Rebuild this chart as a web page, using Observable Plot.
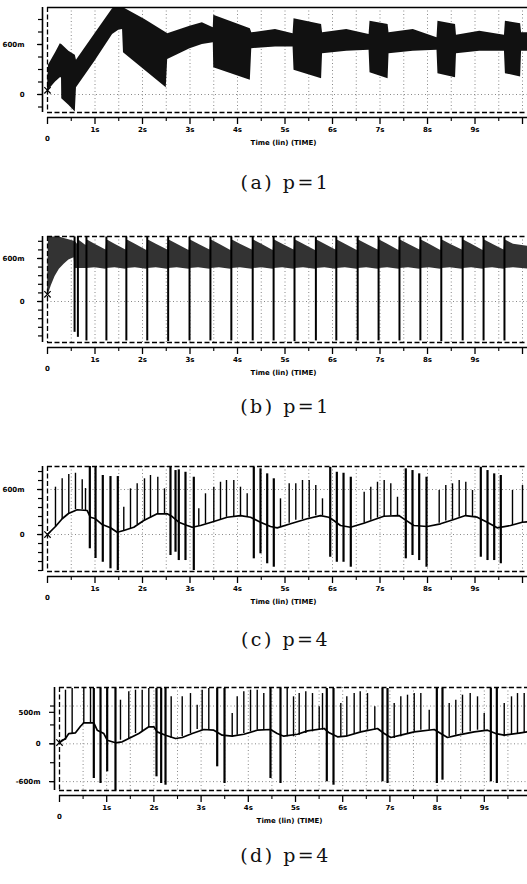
<!DOCTYPE html>
<html><head><meta charset="utf-8">
<script src="https://cdn.jsdelivr.net/npm/d3@7"></script>
<script src="https://cdn.jsdelivr.net/npm/@observablehq/plot@0.6"></script>
<style>
html,body{margin:0;padding:0;background:#fff;}
#root{position:relative;width:527px;height:884px;overflow:hidden;background:#fff;}
.cap{position:absolute;left:22px;width:527px;text-align:center;font-family:"DejaVu Serif",serif;font-size:19px;letter-spacing:2.5px;color:#111;line-height:22px;}
</style></head><body>
<div id="root"></div>
<script>
// ---------- shared axis data ----------
const tickVals = [0,1,2,3,4,5,6,7,8,9,10];
const tickText = ["", "1s","2s","3s","4s","5s","6s","7s","8s","9s",""];
const halfTicks = [0.5,1.5,2.5,3.5,4.5,5.5,6.5,7.5,8.5,9.5];
const gridXVals = [0.5,1,1.5,2,2.5,3,3.5,4,4.5,5,5.5,6,6.5,7,7.5,8,8.5,9,9.5,10];
const axisTitle = "Time (lin) (TIME)";
const originLabel = "0";
const captions = ["(a) p=1","(b) p=1","(c) p=4","(d) p=4"];

// ---------- panel (a): envelope [t, low, high] ----------
const aBand = [
  [0,0.03,0.08],[0.02,0.05,0.35],[0.17,0.15,0.5],[0.27,0.2,0.61],[0.295,0.2,0.6],
  [0.3,-0.05,0.6],[0.45,-0.13,0.52],[0.585,-0.21,0.47],
  [0.61,0.08,0.41],[1.0,0.4,0.73],[1.37,0.72,1.03],[1.5,0.77,1.05],[1.58,0.78,1.04],
  [1.6,0.5,1.04],[2.05,0.29,0.9],[2.5,0.08,0.74],
  [2.53,0.42,0.73],[3.0,0.55,0.82],[3.26,0.6,0.86],[3.49,0.62,0.8],
  [3.5,0.32,0.95],[4.27,0.17,0.79],
  [4.3,0.55,0.74],[4.8,0.57,0.78],[5.17,0.57,0.73],
  [5.19,0.29,0.91],[5.77,0.19,0.84],
  [5.79,0.49,0.74],[6.3,0.52,0.78],[6.77,0.53,0.72],
  [6.79,0.26,0.88],[7.17,0.19,0.84],
  [7.19,0.49,0.74],[7.7,0.52,0.78],[8.2,0.53,0.68],
  [8.22,0.25,0.88],[8.59,0.2,0.84],
  [8.61,0.49,0.71],[9.1,0.52,0.76],[9.62,0.52,0.71],
  [9.64,0.25,0.88],[9.96,0.21,0.85],
  [9.98,0.52,0.74],[10.2,0.52,0.74]
];
const aStart = [[0,0.05]];

// ---------- panel (b): band [t, low, high] and dropouts [t, low, high] ----------
const bBand = [
  [0,0.08,0.12],[0.02,0.1,0.9],[0.08,0.22,0.9],[0.16,0.35,0.9],[0.25,0.45,0.9],[0.35,0.52,0.88],[0.45,0.58,0.86],[0.56,0.61,0.84],
  [0.58,0.46,0.84],[0.63,0.46,0.8],
  [0.65,0.46,0.86],[0.81,0.46,0.78],
  [0.83,0.46,0.86],[1.00,0.47,0.8],[1.23,0.45,0.72],
  [1.25,0.46,0.86],[1.42,0.47,0.8],[1.65,0.45,0.72],
  [1.67,0.46,0.86],[1.85,0.47,0.8],[2.09,0.45,0.71],
  [2.11,0.46,0.86],[2.29,0.47,0.8],[2.53,0.45,0.72],
  [2.55,0.46,0.86],[2.73,0.47,0.8],[2.98,0.45,0.71],
  [3.00,0.46,0.86],[3.18,0.47,0.8],[3.42,0.45,0.72],
  [3.44,0.46,0.86],[3.62,0.47,0.8],[3.86,0.45,0.71],
  [3.88,0.46,0.86],[4.06,0.47,0.8],[4.31,0.45,0.72],
  [4.33,0.46,0.86],[4.51,0.47,0.8],[4.75,0.45,0.71],
  [4.77,0.46,0.86],[4.95,0.47,0.8],[5.19,0.45,0.72],
  [5.21,0.46,0.86],[5.39,0.47,0.8],[5.64,0.45,0.71],
  [5.66,0.46,0.86],[5.84,0.47,0.8],[6.07,0.45,0.72],
  [6.09,0.46,0.86],[6.27,0.47,0.8],[6.52,0.45,0.71],
  [6.54,0.46,0.86],[6.72,0.47,0.8],[6.96,0.45,0.72],
  [6.98,0.46,0.86],[7.16,0.47,0.8],[7.40,0.45,0.71],
  [7.42,0.46,0.86],[7.60,0.47,0.8],[7.84,0.45,0.72],
  [7.86,0.46,0.86],[8.04,0.47,0.8],[8.28,0.45,0.71],
  [8.30,0.46,0.86],[8.48,0.47,0.8],[8.73,0.45,0.72],
  [8.75,0.46,0.86],[8.93,0.47,0.8],[9.17,0.45,0.71],
  [9.19,0.46,0.86],[9.37,0.47,0.8],[9.61,0.45,0.72],
  [9.63,0.46,0.86],[9.81,0.47,0.8],[10.2,0.45,0.76]
];
const bDrops = [
  [0.57,-0.43,0.9],[0.64,-0.5,0.9],[0.82,-0.55,0.9],[1.24,-0.55,0.9],[1.66,-0.55,0.9],[2.10,-0.55,0.9],
  [2.54,-0.56,0.9],[2.99,-0.55,0.9],[3.43,-0.55,0.9],[3.87,-0.55,0.9],[4.32,-0.55,0.9],[4.76,-0.55,0.9],
  [5.20,-0.56,0.9],[5.65,-0.55,0.9],[6.08,-0.55,0.9],[6.53,-0.55,0.9],[6.97,-0.55,0.9],[7.41,-0.55,0.9],
  [7.85,-0.55,0.9],[8.29,-0.56,0.9],[8.74,-0.55,0.9],[9.18,-0.55,0.9],[9.62,-0.55,0.9]
];
const bStart = [[0,0.1]];

// ---------- panel (c): slow baseline [t, v] and spikes [t, low, high] ----------
const cLine = [
  [0,0],[0.168,0.107],[0.309,0.21],[0.442,0.28],[0.625,0.33],[0.836,0.32],[0.905,0.23],[1.01,0.21],
  [1.152,0.133],[1.326,0.09],[1.467,0.03],[1.606,0.053],[1.817,0.097],[2.027,0.187],[2.309,0.276],
  [2.52,0.276],[2.625,0.24],[2.764,0.164],[2.941,0.12],[3.046,0.097],[3.221,0.12],[3.501,0.173],
  [3.783,0.23],[4.063,0.253],[4.274,0.23],[4.484,0.164],[4.695,0.107],[4.836,0.089],[5.116,0.143],
  [5.467,0.21],[5.747,0.253],[5.922,0.23],[6.027,0.187],[6.168,0.12],[6.379,0.097],[6.659,0.151],
  [7.08,0.244],[7.396,0.253],[7.501,0.209],[7.712,0.12],[7.994,0.107],[8.274,0.143],[8.554,0.2],
  [8.8,0.253],[9.046,0.231],[9.257,0.164],[9.467,0.089],[9.747,0.12],[9.994,0.164],[10.105,0.17]
];
const cSpikes = [
  [0.168,0.1,0.631],[0.309,0.2,0.743],[0.448,0.27,0.8],[0.589,0.33,0.817],[0.731,0.33,0.729],[0.8,0.32,0.613],
  [1.606,0.05,0.364],[1.747,0.08,0.609],[1.888,0.13,0.676],[2.042,0.18,0.743],[2.168,0.22,0.787],[2.322,0.27,0.764],[2.463,0.28,0.609],
  [3.185,0.11,0.343],[3.326,0.14,0.543],[3.501,0.17,0.631],[3.642,0.2,0.697],[3.768,0.23,0.72],[3.922,0.24,0.72],[4.063,0.25,0.631],[4.204,0.24,0.543],
  [4.905,0.1,0.476],[5.088,0.15,0.676],[5.227,0.19,0.676],[5.368,0.2,0.72],[5.509,0.22,0.72],[5.648,0.25,0.653],[5.789,0.25,0.476],
  [6.667,0.15,0.564],[6.806,0.19,0.631],[6.947,0.22,0.697],[7.088,0.24,0.72],[7.227,0.25,0.676],[7.368,0.25,0.497],
  [8.246,0.15,0.587],[8.385,0.18,0.653],[8.526,0.2,0.676],[8.667,0.23,0.72],[8.806,0.25,0.697],[8.947,0.24,0.587],
  [9.789,0.12,0.587],[10.0,0.16,0.653]
];
const cBigSpikes = [
  [0.891,-0.19,0.907],[1.011,-0.32,0.897],[1.164,-0.37,0.787],[1.326,-0.457,0.773],[1.48,-0.48,0.773],
  [2.589,-0.28,0.897],[2.695,-0.236,0.853],[2.764,-0.347,0.862],[2.905,-0.347,0.83],[3.08,-0.48,0.764],
  [4.343,-0.324,0.897],[4.484,-0.257,0.876],[4.625,-0.39,0.809],[4.764,-0.436,0.743],
  [5.952,-0.303,0.897],[6.091,-0.37,0.83],[6.232,-0.37,0.817],[6.385,-0.436,0.764],
  [7.543,-0.324,0.876],[7.684,-0.28,0.853],[7.825,-0.347,0.809],[7.979,-0.436,0.764],
  [9.122,-0.303,0.897],[9.263,-0.347,0.853],[9.404,-0.347,0.809],[9.543,-0.39,0.787]
];

// ---------- panel (d): slow baseline [t, v] and spikes [t, low, high] ----------
const dLine = [
  [0,0.02],[0.127,0.084],[0.197,0.163],[0.339,0.175],[0.445,0.279],[0.515,0.333],[0.727,0.333],[0.799,0.216],
  [0.939,0.163],[1.011,0.057],[1.186,0.016],[1.328,0.032],[1.468,0.084],[1.68,0.163],[1.892,0.27],[1.998,0.27],
  [2.07,0.19],[2.246,0.137],[2.458,0.084],[2.6,0.1],[2.811,0.163],[3.057,0.227],[3.269,0.216],[3.447,0.137],
  [3.659,0.121],[3.905,0.152],[4.189,0.216],[4.47,0.227],[4.612,0.163],[4.752,0.121],[5.042,0.152],[5.254,0.206],
  [5.608,0.243],[5.714,0.175],[5.89,0.111],[6.066,0.121],[6.383,0.19],[6.737,0.243],[6.879,0.163],[7.019,0.1],
  [7.231,0.137],[7.515,0.19],[7.939,0.227],[8.078,0.163],[8.22,0.1],[8.432,0.137],[8.786,0.19],[9.068,0.216],
  [9.244,0.163],[9.422,0.137],[9.773,0.175],[9.915,0.19]
];
const dSpikes = [
  [0.127,0.057,0.851],[0.268,0.163,0.878],[0.515,0.322,0.878],[0.657,0.322,0.878],
  [1.292,0.057,0.692],[1.468,0.084,0.825],[1.61,0.163,0.851],[1.752,0.19,0.851],[1.892,0.27,0.878],
  [2.366,0.084,0.746],[2.6,0.111,0.746],[2.775,0.163,0.798],[2.917,0.227,0.613],[3.023,0.216,0.851],[3.163,0.216,0.878],
  [3.659,0.111,0.481],[3.765,0.137,0.746],[3.905,0.163,0.825],[4.047,0.19,0.851],[4.189,0.216,0.851],[4.328,0.227,0.798],
  [4.824,0.111,0.878],[4.958,0.111,0.746],[5.078,0.137,0.798],[5.218,0.163,0.825],[5.36,0.19,0.798],[5.502,0.216,0.587],[5.572,0.216,0.798],
  [5.96,0.111,0.64],[6.087,0.111,0.746],[6.243,0.163,0.798],[6.371,0.19,0.825],[6.525,0.216,0.798],[6.68,0.216,0.587],
  [7.091,0.084,0.64],[7.231,0.111,0.746],[7.373,0.163,0.772],[7.515,0.19,0.798],[7.655,0.216,0.798],[7.833,0.216,0.534],
  [8.256,0.111,0.64],[8.396,0.137,0.692],[8.538,0.163,0.772],[8.701,0.19,0.798],[8.856,0.216,0.746],[8.998,0.216,0.481],
  [9.422,0.111,0.64],[9.576,0.137,0.746],[9.703,0.163,0.798],[9.845,0.17,0.798]
];
const dBigSpikes = [
  [0.727,-0.551,0.878],[0.869,-0.63,0.878],[1.01,-0.444,0.878],[1.186,-0.746,0.878],
  [2.055,-0.524,0.878],[2.154,-0.63,0.878],[2.246,-0.657,0.878],
  [3.341,-0.365,0.878],[3.496,-0.63,0.878],
  [4.47,-0.551,0.878],[4.682,-0.63,0.878],
  [5.663,-0.603,0.878],[5.805,-0.657,0.878],
  [6.843,-0.603,0.878],[6.949,-0.63,0.878],
  [7.994,-0.63,0.878],[8.114,-0.577,0.878],
  [9.138,-0.603,0.878],[9.265,-0.63,0.878]
];

// ---------- y-axis tick data per panel ----------
const aYMinor = [-0.15,0,0.15,0.3,0.45,0.6,0.75,0.9];
const aYLabVals = [0,0.6]; const aYLabText = ["0","600m"];
const bYMinor = [-0.48,-0.36,-0.24,-0.12,0,0.12,0.24,0.36,0.48,0.6,0.72,0.84];
const bYLabVals = [0,0.6]; const bYLabText = ["0","600m"];
const cYMinor = [-0.48,-0.36,-0.24,-0.12,0,0.12,0.24,0.36,0.48,0.6,0.72,0.84];
const cYLabVals = [0,0.6]; const cYLabText = ["0","600m"];
const dYMinor = [-0.6,-0.3,0,0.3,0.6];
const dYLabVals = [-0.6,0,0.5]; const dYLabText = ["-600m","0","500m"];

function panel(cfg){
  const fmtY = d => cfg.yLabText[cfg.yLabVals.indexOf(d)];
  const dash = {stroke:"#000", strokeDasharray:"5,2.5", strokeWidth:1.3};
  return Plot.plot({
    width: 527, height: cfg.height,
    marginTop: cfg.mt, marginBottom: cfg.mb, marginLeft: cfg.ml, marginRight: 0,
    x: {domain: cfg.xDomain, axis: null},
    y: {domain: cfg.yDomain, axis: null},
    style: {fontFamily:"'DejaVu Sans', sans-serif", fontSize:"7px", fontWeight:"bold", background:"transparent", overflow:"visible", color:"#000"},
    marks: [
      Plot.ruleX(gridXVals.filter(v => v <= cfg.xDomain[1]), {stroke:"#888", strokeDasharray:"1,2.5", strokeWidth:1}),
      Plot.ruleY(cfg.yGrid, {stroke:"#888", strokeDasharray:"1,2.5", strokeWidth:1}),
      ...cfg.marks,
      Plot.ruleY([cfg.yDomain[1]], cfg.solidTop ? {stroke:"#000", strokeWidth:1.6} : dash),
      Plot.ruleY([cfg.yDomain[0]], dash),
      Plot.ruleX([cfg.xDomain[0]], dash),
      Plot.ruleX([cfg.xDomain[0]], {dx:-5, stroke:"#000", strokeWidth:1.6}),
      Plot.axisY(cfg.yMinor, {anchor:"left", dx:-5, tickSize:4, tickFormat: () => "", strokeWidth:1.2}),
      Plot.axisY(cfg.yLabVals, {anchor:"left", dx:-5, tickSize:5, tickPadding:cfg.yPad, tickFormat: fmtY, strokeWidth:1.2}),
      Plot.ruleY([cfg.yDomain[0]], {dy:5, stroke:"#000", strokeWidth:1.6}),
      Plot.axisX(tickVals, {anchor:"bottom", dy:5, tickSize:7, tickPadding:3, tickFormat:(d,i) => tickText[i], label:null, strokeWidth:1.3}),
      Plot.axisX(halfTicks, {anchor:"bottom", dy:5, tickSize:4, tickFormat:() => "", label:null, strokeWidth:1.1}),
      Plot.text([originLabel], {x: () => tickVals[0], text: d => d, frameAnchor:"bottom", lineAnchor:"middle", dy: cfg.zeroDy}),
      Plot.text([axisTitle], {text: d => d, frameAnchor:"bottom", lineAnchor:"middle", dy: cfg.titleDy, dx: -4})
    ]
  });
}

const X = d => d[0], LO = d => d[1], HI = d => d[2];

const pa = panel({
  height:150, mt:7, mb:38, ml:47, xDomain:[0,10.105], yDomain:[-0.216,1.044], solidTop:true,
  yMinor:aYMinor, yLabVals:aYLabVals, yLabText:aYLabText, yPad:13, yGrid:[0],
  zeroDy:26, titleDy:30,
  marks:[
    Plot.areaY(aBand, {x:X, y1:LO, y2:HI, fill:"#111", clip:true}),
    Plot.dot(aStart, {x:X, y:d=>d[1], symbol:"times", r:3, stroke:"#000", strokeWidth:1.2})
  ]
});
const pb = panel({
  height:150, mt:7, mb:37, ml:47, xDomain:[0,10.105], yDomain:[-0.572,0.907],
  yMinor:bYMinor, yLabVals:bYLabVals, yLabText:bYLabText, yPad:13, yGrid:[0],
  zeroDy:26, titleDy:30,
  marks:[
    Plot.areaY(bBand, {x:X, y1:LO, y2:HI, fill:"#333", clip:true}),
    Plot.ruleX(bDrops, {x:X, y1:LO, y2:HI, stroke:"#000", strokeWidth:2, clip:true}),
    Plot.dot(bStart, {x:X, y:d=>d[1], symbol:"times", r:3, stroke:"#000", strokeWidth:1.2})
  ]
});
const pc = panel({
  height:150, mt:7, mb:38, ml:47, xDomain:[0,10.105], yDomain:[-0.493,0.907],
  yMinor:cYMinor, yLabVals:cYLabVals, yLabText:cYLabText, yPad:13, yGrid:[0,0.6],
  zeroDy:26, titleDy:30,
  marks:[
    Plot.ruleX(cSpikes, {x:X, y1:LO, y2:HI, stroke:"#000", strokeWidth:1.4, clip:true}),
    Plot.ruleX(cBigSpikes, {x:X, y1:LO, y2:HI, stroke:"#000", strokeWidth:2.2, clip:true}),
    Plot.line(cLine, {x:X, y:d=>d[1], stroke:"#000", strokeWidth:1.7, clip:true}),
    Plot.dot([cLine[0]], {x:X, y:d=>d[1], symbol:"times", r:3, stroke:"#000", strokeWidth:1.2})
  ]
});
const pd = panel({
  height:150, mt:7, mb:40, ml:59, xDomain:[0,9.915], yDomain:[-0.741,0.894],
  yMinor:dYMinor, yLabVals:dYLabVals, yLabText:dYLabText, yPad:9, yGrid:[-0.6,0,0.6],
  zeroDy:26, titleDy:30,
  marks:[
    Plot.ruleX(dSpikes, {x:X, y1:LO, y2:HI, stroke:"#000", strokeWidth:1.4, clip:true}),
    Plot.ruleX(dBigSpikes, {x:X, y1:LO, y2:HI, stroke:"#000", strokeWidth:2.2, clip:true}),
    Plot.line(dLine, {x:X, y:d=>d[1], stroke:"#000", strokeWidth:1.7, clip:true}),
    Plot.dot([dLine[0]], {x:X, y:d=>d[1], symbol:"times", r:3, stroke:"#000", strokeWidth:1.2})
  ]
});

const root = document.getElementById("root");
const tops = [0, 229, 459, 680];
const capCenters = [182, 406, 639, 855];
[pa,pb,pc,pd].forEach((el,i) => {
  el.style.position = "absolute"; el.style.left = "0px"; el.style.top = tops[i] + "px";
  root.appendChild(el);
  const c = document.createElement("div");
  c.className = "cap"; c.textContent = captions[i];
  c.style.top = (capCenters[i] - 11) + "px";
  root.appendChild(c);
});
</script>
</body></html>
